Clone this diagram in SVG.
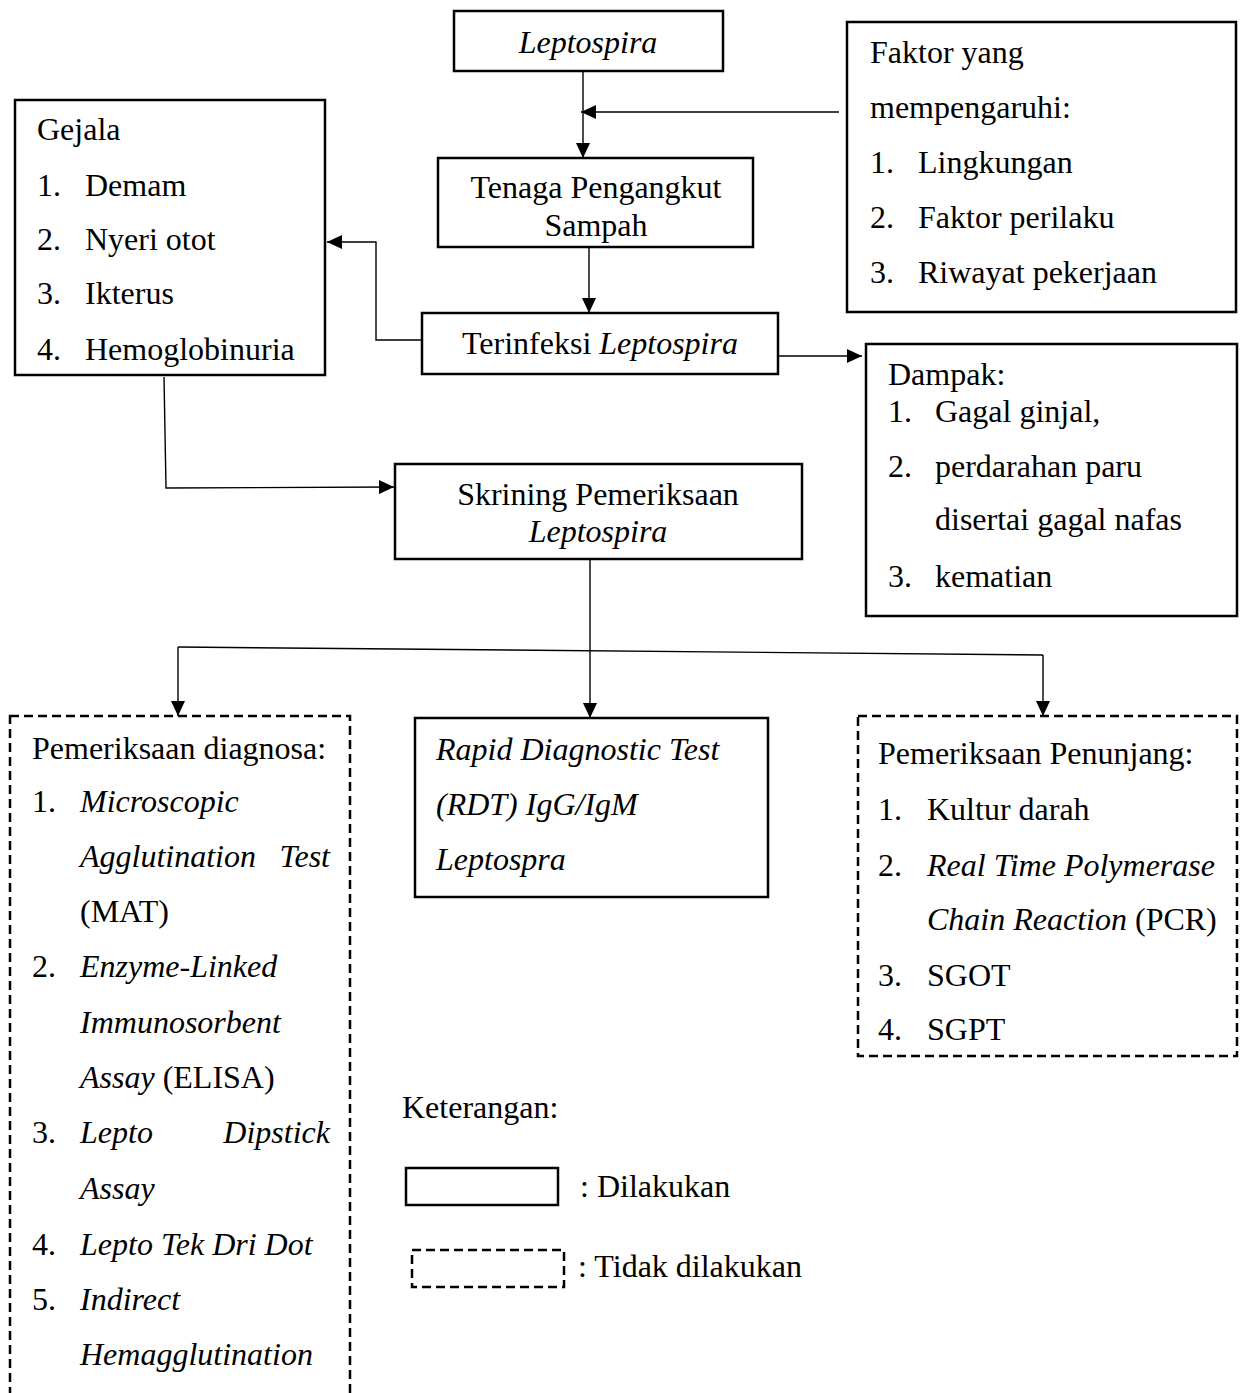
<svg xmlns="http://www.w3.org/2000/svg" width="1240" height="1393" viewBox="0 0 1240 1393">
<style>
text{font-family:"Liberation Serif","Times New Roman",serif;font-size:32px;fill:#000}
.i{font-style:italic}
.box{fill:#fff;stroke:#000;stroke-width:2.5}
.dash{fill:#fff;stroke:#000;stroke-width:2.5;stroke-dasharray:9 5}
.c{fill:none;stroke:#000;stroke-width:1.4}
</style>
<defs>
<marker id="ah" markerUnits="userSpaceOnUse" markerWidth="15" markerHeight="14" refX="15" refY="7" orient="auto">
<path d="M0,0 L15,7 L0,14 z" fill="#000"/>
</marker>
<clipPath id="clipTen"><rect x="437" y="157" width="318" height="90"/></clipPath>
<clipPath id="clipGej"><rect x="14" y="99" width="313" height="275"/></clipPath>
</defs>

<g id="connectors">
<line class="c" x1="583" y1="72" x2="583" y2="158" marker-end="url(#ah)"/>
<line class="c" x1="839" y1="112" x2="581" y2="112" marker-end="url(#ah)"/>
<line class="c" x1="589" y1="243" x2="589" y2="313" marker-end="url(#ah)"/>
<polyline class="c" points="422,340 376,340 376,242 327,242" marker-end="url(#ah)"/>
<line class="c" x1="778" y1="356" x2="862" y2="356" marker-end="url(#ah)"/>
<polyline class="c" points="164,377 166,488 394,487" marker-end="url(#ah)"/>
<line class="c" x1="590" y1="559" x2="590" y2="718" marker-end="url(#ah)"/>
<line class="c" x1="178" y1="647" x2="1043" y2="655"/>
<line class="c" x1="178" y1="647" x2="178" y2="716" marker-end="url(#ah)"/>
<line class="c" x1="1043" y1="655" x2="1043" y2="716" marker-end="url(#ah)"/>
</g>

<g id="leptospira">
<rect class="box" x="454" y="11" width="269" height="60"/>
<text class="i" x="588" y="53" text-anchor="middle">Leptospira</text>
</g>

<g id="faktor">
<rect class="box" x="847" y="22" width="389" height="290"/>
<text x="870" y="63">Faktor yang</text>
<text x="870" y="118">mempengaruhi:</text>
<text x="870" y="173">1.</text><text x="918" y="173">Lingkungan</text>
<text x="870" y="228">2.</text><text x="918" y="228">Faktor perilaku</text>
<text x="870" y="283">3.</text><text x="918" y="283">Riwayat pekerjaan</text>
</g>

<g id="tenaga">
<rect class="box" x="438" y="158" width="315" height="89"/>
<g clip-path="url(#clipTen)">
<text x="596" y="198" text-anchor="middle">Tenaga Pengangkut</text>
<text x="596" y="236" text-anchor="middle">Sampah</text>
</g>
</g>

<g id="gejala">
<rect class="box" x="15" y="100" width="310" height="275"/>
<g clip-path="url(#clipGej)">
<text x="37" y="140">Gejala</text>
<text x="37" y="196">1.</text><text x="85" y="196">Demam</text>
<text x="37" y="250">2.</text><text x="85" y="250">Nyeri otot</text>
<text x="37" y="304">3.</text><text x="85" y="304">Ikterus</text>
<text x="37" y="360">4.</text><text x="85" y="360">Hemoglobinuria</text>
</g>
</g>

<g id="terinfeksi">
<rect class="box" x="422" y="313" width="356" height="61"/>
<text x="462" y="354">Terinfeksi <tspan class="i">Leptospira</tspan></text>
</g>

<g id="dampak">
<rect class="box" x="866" y="344" width="371" height="272"/>
<text x="888" y="385">Dampak:</text>
<text x="888" y="422">1.</text><text x="935" y="422">Gagal ginjal,</text>
<text x="888" y="477">2.</text><text x="935" y="477">perdarahan paru</text>
<text x="935" y="530">disertai gagal nafas</text>
<text x="888" y="587">3.</text><text x="935" y="587">kematian</text>
</g>

<g id="skrining">
<rect class="box" x="395" y="464" width="407" height="95"/>
<text x="598" y="505" text-anchor="middle">Skrining Pemeriksaan</text>
<text class="i" x="598" y="542" text-anchor="middle">Leptospira</text>
</g>

<g id="diagnosa">
<rect class="dash" x="10" y="716" width="340" height="700"/>
<text x="32" y="759">Pemeriksaan diagnosa:</text>
<text x="32" y="812">1.</text><text class="i" x="80" y="812">Microscopic</text>
<text class="i" x="80" y="867">Agglutination</text><text class="i" x="330" y="867" text-anchor="end">Test</text>
<text x="80" y="922">(MAT)</text>
<text x="32" y="977">2.</text><text class="i" x="80" y="977">Enzyme-Linked</text>
<text class="i" x="80" y="1033">Immunosorbent</text>
<text x="80" y="1088"><tspan class="i">Assay</tspan> (ELISA)</text>
<text x="32" y="1143">3.</text><text class="i" x="80" y="1143">Lepto</text><text class="i" x="330" y="1143" text-anchor="end">Dipstick</text>
<text class="i" x="80" y="1199">Assay</text>
<text x="32" y="1255">4.</text><text class="i" x="80" y="1255">Lepto Tek Dri Dot</text>
<text x="32" y="1310">5.</text><text class="i" x="80" y="1310">Indirect</text>
<text class="i" x="80" y="1365">Hemagglutination</text>
</g>

<g id="rdt">
<rect class="box" x="415" y="718" width="353" height="179"/>
<text class="i" x="436" y="760">Rapid Diagnostic Test</text>
<text class="i" x="436" y="815">(RDT) IgG/IgM</text>
<text class="i" x="436" y="870">Leptospra</text>
</g>

<g id="penunjang">
<rect class="dash" x="858" y="716" width="379" height="340"/>
<text x="878" y="764">Pemeriksaan Penunjang:</text>
<text x="878" y="820">1.</text><text x="927" y="820">Kultur darah</text>
<text x="878" y="876">2.</text><text class="i" x="927" y="876">Real Time Polymerase</text>
<text x="927" y="930"><tspan class="i">Chain Reaction</tspan> (PCR)</text>
<text x="878" y="986">3.</text><text x="927" y="986">SGOT</text>
<text x="878" y="1040">4.</text><text x="927" y="1040">SGPT</text>
</g>

<g id="legend">
<text x="402" y="1118">Keterangan:</text>
<rect class="box" x="406" y="1168" width="152" height="37"/>
<text x="580" y="1197">: Dilakukan</text>
<rect class="dash" x="412" y="1250" width="152" height="37"/>
<text x="578" y="1277">: Tidak dilakukan</text>
</g>
</svg>
